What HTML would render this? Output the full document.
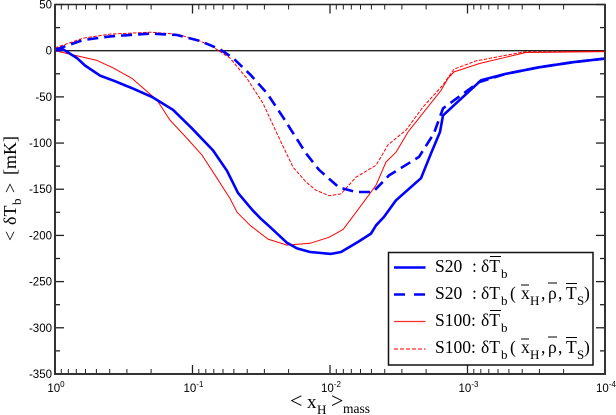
<!DOCTYPE html>
<html>
<head>
<meta charset="utf-8">
<style>
html,body{margin:0;padding:0;background:#fff;}
svg{display:block;}
.serif{font-family:"Liberation Serif",serif;fill:#000;}
.sans{font-family:"Liberation Sans",sans-serif;fill:#000;}
.lg{font-size:17.5px;}
.sub{font-size:13px;}
.bar{stroke:#000;stroke-width:1;}
</style>
</head>
<body>
<svg id="chart" xmlns="http://www.w3.org/2000/svg" width="616" height="415" viewBox="0 0 616 415">
  <g id="ticks"></g>
  <line x1="55" y1="50.7" x2="605" y2="50.7" stroke="#222" stroke-width="1.3"/>
  <g id="series"></g>
  <rect x="55" y="4.5" width="550" height="369.5" fill="none" stroke="#222" stroke-width="1.5"/>
  <line x1="54" y1="374" x2="605.5" y2="374" stroke="#333" stroke-width="2"/>
  <line x1="55" y1="4" x2="55" y2="375" stroke="#333" stroke-width="2"/>
  <line x1="605" y1="4" x2="605" y2="375" stroke="#333" stroke-width="2"/>
  <g id="labels"></g>

  <g transform="translate(16,241) rotate(-90)">
    <text class="serif" x="0" y="0" font-size="18">&lt;</text>
    <text class="serif" x="16" y="0" font-size="18">δT</text>
    <text class="serif" x="36" y="5" font-size="13">b</text>
    <text class="serif" x="48" y="0" font-size="18">&gt;</text>
    <text class="serif" x="66" y="0" font-size="18">[mK]</text>
  </g>
  <g>
    <text class="serif" x="290" y="408" font-size="22">&lt;</text>
    <text class="serif" x="307" y="408" font-size="19">x</text>
    <text class="serif" x="317" y="414" font-size="13">H</text>
    <text class="serif" x="331" y="408" font-size="22">&gt;</text>
    <text class="serif" x="343" y="413" font-size="13.5">mass</text>
  </g>

  <g>
    <rect x="388.5" y="252.5" width="204.5" height="112.5" fill="#fff" stroke="#111" stroke-width="1.5"/>

    <g>
      <line x1="394" y1="267.5" x2="425.5" y2="267.5" stroke="#0000ff" stroke-width="2.5"/>
      <text class="serif lg" x="435" y="272">S20</text><text class="serif lg" x="472" y="272">:</text>
      <text class="serif lg" x="481" y="272">δT</text><line class="bar" x1="490" y1="256.5" x2="501" y2="256.5"/>
      <text class="serif sub" x="501" y="278">b</text>
    </g>

    <g>
      <line x1="394" y1="294.5" x2="425.5" y2="294.5" stroke="#0000ff" stroke-width="2.5" stroke-dasharray="11 9"/>
      <text class="serif lg" x="435" y="299">S20</text><text class="serif lg" x="472" y="299">:</text>
      <text class="serif lg" x="481" y="299">δT</text><text class="serif sub" x="501" y="305">b</text>
      <text class="serif lg" x="510" y="299">(</text>
      <text class="serif lg" x="521" y="299">x</text><line class="bar" x1="521" y1="285" x2="529" y2="285"/><text class="serif sub" x="530" y="305">H</text>
      <text class="serif lg" x="541" y="299">,</text>
      <text class="serif lg" x="548" y="299">ρ</text><line class="bar" x1="548" y1="283" x2="557" y2="283"/>
      <text class="serif lg" x="558" y="299">,</text>
      <text class="serif lg" x="566" y="299">T</text><line class="bar" x1="566" y1="283.5" x2="577" y2="283.5"/><text class="serif sub" x="577" y="305">S</text>
      <text class="serif lg" x="584" y="299">)</text>
    </g>

    <g>
      <line x1="394" y1="321.5" x2="425.5" y2="321.5" stroke="#ff2a2a" stroke-width="1.2"/>
      <text class="serif lg" x="435" y="326">S100:</text>
      <text class="serif lg" x="481" y="326">δT</text><line class="bar" x1="490" y1="310.5" x2="501" y2="310.5"/>
      <text class="serif sub" x="501" y="332">b</text>
    </g>

    <g>
      <line x1="394" y1="349" x2="425.5" y2="349" stroke="#ff2a2a" stroke-width="1.2" stroke-dasharray="4 2"/>
      <text class="serif lg" x="435" y="353">S100:</text>
      <text class="serif lg" x="481" y="353">δT</text><text class="serif sub" x="501" y="359">b</text>
      <text class="serif lg" x="510" y="353">(</text>
      <text class="serif lg" x="521" y="353">x</text><line class="bar" x1="521" y1="339" x2="529" y2="339"/><text class="serif sub" x="530" y="359">H</text>
      <text class="serif lg" x="541" y="353">,</text>
      <text class="serif lg" x="548" y="353">ρ</text><line class="bar" x1="548" y1="337" x2="557" y2="337"/>
      <text class="serif lg" x="558" y="353">,</text>
      <text class="serif lg" x="566" y="353">T</text><line class="bar" x1="566" y1="337.5" x2="577" y2="337.5"/><text class="serif sub" x="577" y="359">S</text>
      <text class="serif lg" x="584" y="353">)</text>
    </g>
  </g>
</svg>
<script>
// Log10 of the mass-weighted neutral fraction, and delta-T_b values in mK
const s20MeanLogX = [0,-.058,-.16,-.218,-.327,-.436,-.567,-.705,-.858,-.996,-1.149,-1.251,-1.331,-1.433,-1.491,-1.564,-1.687,-1.76,-1.855,-2.007,-2.08,-2.204,-2.298,-2.335,-2.393,-2.48,-2.662,-2.735,-2.8,-2.822,-3.098,-3.28,-3.52,-3.767,-4];
const s20MeanValues = [0,1.5,-8,-16,-27,-33,-41,-50,-64,-84,-108,-130,-154,-172,-181,-191,-208,-214,-218,-220,-218,-207,-198,-189,-180,-162,-138,-111,-88,-70,-32,-25,-18,-12.5,-8.5];
const s20ApproxLogX = [0,-.204,-.4,-.691,-.887,-1.055,-1.2,-1.295,-1.418,-1.542,-1.658,-1.825,-1.92,-2.065,-2.189,-2.313,-2.429,-2.647,-2.756,-2.822,-3.084,-3.28,-3.52,-3.767,-4];
const s20ApproxValues = [1,11.5,15.5,18.5,17,10.5,1.5,-8,-25.5,-46,-72,-111,-129,-148,-153,-153,-135,-115,-89.5,-62.5,-34,-25,-18,-12.5,-8.5];
const s100MeanLogX = [0,-.087,-.305,-.422,-.56,-.742,-.836,-.96,-1.069,-1.178,-1.273,-1.324,-1.418,-1.549,-1.687,-1.855,-1.993,-2.095,-2.204,-2.335,-2.407,-2.48,-2.567,-2.807,-2.858,-2.902,-3.084,-3.28,-3.425,-4];
const s100MeanValues = [0,-3,-10.5,-18.5,-30,-53.5,-75,-95,-113,-138,-160,-175,-189,-204,-210.5,-208.5,-202,-193.5,-172,-145.5,-120.5,-110,-88,-43,-30,-23,-14,-7,-2,-1];
const s100ApproxLogX = [0,-.204,-.4,-.691,-.887,-1.055,-1.149,-1.273,-1.396,-1.513,-1.615,-1.731,-1.825,-1.898,-1.993,-2.08,-2.189,-2.335,-2.422,-2.553,-2.676,-2.822,-2.902,-3.062,-3.28,-3.404,-4];
const s100ApproxValues = [3,13.5,18,20,18,10.5,4,-8,-30,-57,-90,-126,-142,-151,-157,-155,-137,-124,-102,-86,-61,-37,-20,-11,-5,-1.5,-0.5];
const yTickValues = [50,0,-50,-100,-150,-200,-250,-300,-350];
const xDecadeExponents = [0,-1,-2,-3,-4];

const NS = 'http://www.w3.org/2000/svg';
const xScale = function (lx) { return 55 + (0 - lx) * 137.5; };
const yScale = function (v) { return 50.7 - v * 0.9236; };

const tickGroup = document.getElementById('ticks');
const labelGroup = document.getElementById('labels');
const seriesGroup = document.getElementById('series');

function tick(x1, y1, x2, y2, w) {
  const l = document.createElementNS(NS, 'line');
  l.setAttribute('x1', x1);
  l.setAttribute('y1', y1);
  l.setAttribute('x2', x2);
  l.setAttribute('y2', y2);
  l.setAttribute('stroke', '#222');
  l.setAttribute('stroke-width', w);
  
  
  tickGroup.appendChild(l);
}

yTickValues.forEach(function (v, i) {
  const y = yScale(v);
  tick(55, y, 64, y, 1.3);
  tick(605, y, 596, y, 1.3);
  if (i < yTickValues.length - 1) {
    const m = yScale(v - 25);
    tick(55, m, 60, m, 1.3);
    tick(605, m, 600, m, 1.3);
  }
  const t = document.createElementNS(NS, 'text');
  t.setAttribute('class', 'sans');
  t.setAttribute('x', 52);
  t.setAttribute('y', y + 4);
  t.setAttribute('text-anchor', 'end');
  t.setAttribute('font-size', '11.5');
  
  
  t.textContent = String(v);
  labelGroup.appendChild(t);
});

xDecadeExponents.forEach(function (e, i) {
  const x = xScale(e);
  tick(x, 374, x, 365, 1.3);
  tick(x, 4.5, x, 13.5, 1.3);
  if (i < xDecadeExponents.length - 1) {
    for (let k = 9; k >= 2; k--) {
      const mx = xScale(e - 1 + Math.log10(k));
      tick(mx, 374, mx, 369, 1);
      tick(mx, 4.5, mx, 9.5, 1);
    }
  }
  const t = document.createElementNS(NS, 'text');
  t.setAttribute('class', 'sans');
  t.setAttribute('x', x + 1);
  t.setAttribute('y', 392);
  t.setAttribute('text-anchor', 'middle');
  t.setAttribute('font-size', '11.5');
  
  
  t.textContent = '10';
  const s = document.createElementNS(NS, 'tspan');
  s.setAttribute('font-size', '8');
  s.setAttribute('dy', '-5');
  s.textContent = String(e);
  t.appendChild(s);
  labelGroup.appendChild(t);
});

function drawSeries(xs, ys, color, width, dash, name) {
  const p = document.createElementNS(NS, 'polyline');
  p.setAttribute('points', xs.map(function (lx, i) {
    return xScale(lx).toFixed(1) + ',' + yScale(ys[i]).toFixed(1);
  }).join(' '));
  p.setAttribute('fill', 'none');
  p.setAttribute('stroke', color);
  p.setAttribute('stroke-width', width);
  p.setAttribute('stroke-linejoin', 'round');
  if (dash) p.setAttribute('stroke-dasharray', dash);
  
  
  seriesGroup.appendChild(p);
}

drawSeries(s100MeanLogX, s100MeanValues, '#ff0000', 1, '', 's100-mean-line');
drawSeries(s100ApproxLogX, s100ApproxValues, '#ff0000', 1, '3.5 1.5', 's100-approx-line');
drawSeries(s20MeanLogX, s20MeanValues, '#0000ff', 2.6, '', 's20-mean-line');
drawSeries(s20ApproxLogX, s20ApproxValues, '#0000ff', 2.6, '11 6', 's20-approx-line');
</script>
</body>
</html>
